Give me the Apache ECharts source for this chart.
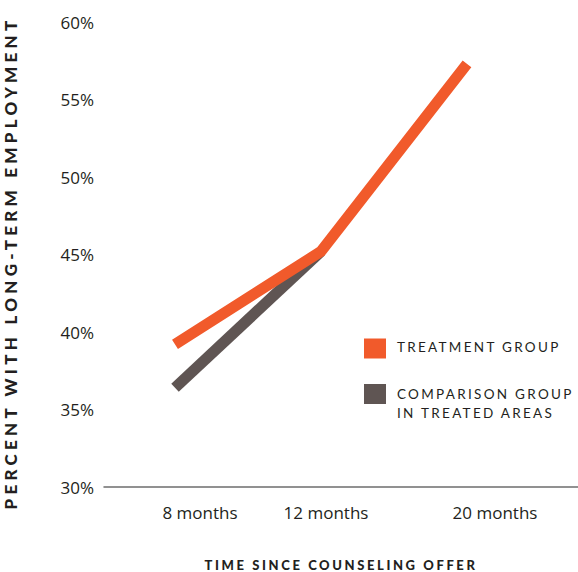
<!DOCTYPE html>
<html>
<head>
<meta charset="utf-8">
<script src="https://cdn.jsdelivr.net/npm/echarts@6/dist/echarts.min.js"></script>
<style>
html,body{margin:0;padding:0;background:#fff;}
#chart{width:578px;height:572px;}
#chart text[style*="ytitle"]{letter-spacing:0.25em;}
#chart text[style*="xtitle"]{letter-spacing:0.2em;}
#chart text[style*="legendtxt"]{letter-spacing:0.17em;}
</style>
</head>
<body>
<div id="chart"></div>
<script>
const categories = ['8 months', '12 months', '20 months'];
const treatment = [39.2, 45.2, 57.3];
const comparison = [36.4, 45.2];
const yTicks = [30, 35, 40, 45, 50, 55, 60];
const seriesNames = ['TREATMENT GROUP', 'COMPARISON GROUP\nIN TREATED AREAS'];

const chart = echarts.init(document.getElementById('chart'), null, {renderer: 'svg'});
const labelPad = [50, 10, 56];
const rich = {};
labelPad.forEach((p, i) => {
  rich['p' + i] = {padding: [0, 0, 0, p], fontSize: 17, fontFamily: 'Open Sans', color: '#231f20'};
});
const legendFont = {fontFamily: 'Lato, legendtxt', fontSize: 13.5, color: '#231f20', lineHeight: 19};
const legendRich = {t: legendFont};

chart.setOption({
  animation: false,
  backgroundColor: '#fff',
  grid: [
    {left: 104, right: 0, top: 22, bottom: 85, outerBoundsMode: 'none'},
    {left: 175, right: 111, top: 22, bottom: 85, outerBoundsMode: 'none'},
    {left: 175, right: 111, top: 40, bottom: 86, outerBoundsMode: 'none'}
  ],
  xAxis: [
    {
      gridIndex: 0, type: 'value', min: 0, max: 1,
      axisLine: {show: true, lineStyle: {color: '#6d6d6d', width: 1.5}},
      axisTick: {show: false}, axisLabel: {show: false}, splitLine: {show: false},
      name: 'TIME SINCE COUNSELING OFFER', nameLocation: 'middle', nameGap: 71,
      nameTextStyle: {fontFamily: 'Lato, xtitle', fontWeight: 900, fontSize: 13, color: '#231f20'}
    },
    {
      gridIndex: 1, type: 'category', data: categories, boundaryGap: false,
      axisLine: {show: false}, axisTick: {show: false}, splitLine: {show: false},
      axisLabel: {
        interval: 0, hideOverlap: false,
        margin: 17, fontSize: 17, fontFamily: 'Open Sans', color: '#231f20',
        formatter: (v, i) => '{p' + i + '|' + v + '}', rich: rich
      }
    },
    {gridIndex: 2, type: 'value', show: false}
  ],
  yAxis: [
    {gridIndex: 0, type: 'value', min: 30, max: 60, show: false},
    {
      gridIndex: 1, type: 'value', min: 30, max: 60, interval: 5,
      axisLine: {show: false}, axisTick: {show: false}, splitLine: {show: false},
      axisLabel: {
        margin: 81, fontSize: 17, fontFamily: 'Open Sans', color: '#231f20',
        formatter: v => yTicks.includes(v) ? v + '%' : ''
      }
    },
    {
      gridIndex: 2, type: 'value', min: 0, max: 1,
      axisLine: {show: false}, axisTick: {show: false}, splitLine: {show: false}, axisLabel: {show: false},
      name: 'PERCENT WITH LONG-TERM EMPLOYMENT', nameLocation: 'middle', nameRotate: 90, nameGap: 156,
      nameTextStyle: {fontFamily: 'Lato, ytitle', fontWeight: 900, fontSize: 17, color: '#231f20'}
    }
  ],
  legend: {
    orient: 'vertical', left: 364, top: 337, padding: 0, itemWidth: 22, itemHeight: 20, itemGap: 5.5,
    icon: 'rect', selectedMode: false,
    textStyle: Object.assign({padding: [0, 0, 4, 6], rich: legendRich}, legendFont),
    data: [
      {name: seriesNames[0]},
      {name: seriesNames[1], textStyle: Object.assign({padding: [19, 0, 0, 6], rich: legendRich}, legendFont)}
    ]
  },
  series: [
    {
      name: seriesNames[1], type: 'line', xAxisIndex: 1, yAxisIndex: 1,
      data: comparison, symbol: 'none', color: '#5f5553',
      lineStyle: {width: 11, color: '#5f5553', cap: 'butt', join: 'miter'}
    },
    {
      name: seriesNames[0], type: 'line', xAxisIndex: 1, yAxisIndex: 1,
      data: treatment, symbol: 'none', color: '#f15a2b',
      lineStyle: {width: 11, color: '#f15a2b', cap: 'butt', join: 'miter'}
    }
  ]
});
</script>
</body>
</html>
